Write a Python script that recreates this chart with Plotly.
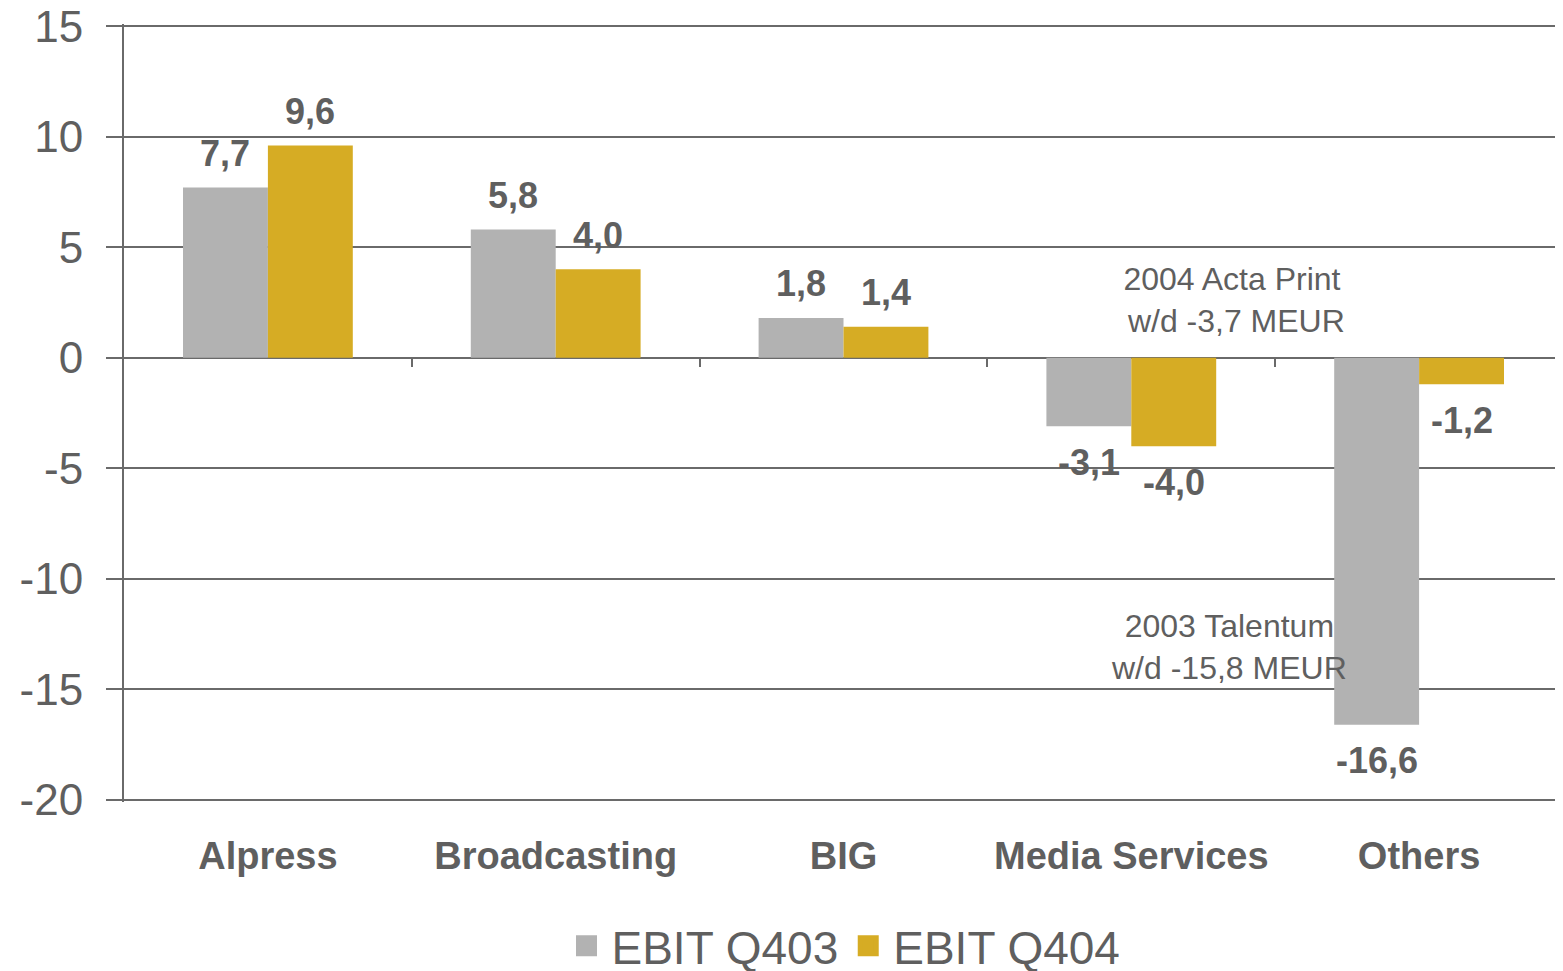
import plotly.graph_objects as go

# --- data ---
categories = ["Alpress", "Broadcasting", "BIG", "Media Services", "Others"]
ebit_q403 = [7.7, 5.8, 1.8, -3.1, -16.6]
ebit_q404 = [9.6, 4.0, 1.4, -4.0, -1.2]
series_names = ["EBIT Q403", "EBIT Q404"]
y_ticks = [15, 10, 5, 0, -5, -10, -15, -20]
y_tick_text = ["15", "10", "5", "0", "-5", "-10", "-15", "-20"]
notes = ["2004 Acta Print<br> w/d -3,7 MEUR", "2003 Talentum<br>w/d -15,8 MEUR"]

GREY = "#b2b2b2"
GOLD = "#d6ac24"
TEXT = "#5f5f5f"
LINE = "#6a6a6a"
FONT = "Liberation Sans, Arial, sans-serif"

BARGAP = 0.41
y_min, y_max = -20, 15


def fmt(v):
    # komma als decimaalteken
    return f"{v:.1f}".replace(".", ",")


fig = go.Figure()

series = [(series_names[0], ebit_q403, GREY), (series_names[1], ebit_q404, GOLD)]
for name, vals, col in series:
    fig.add_trace(go.Bar(
        x=categories,
        y=vals,
        name=name,
        marker=dict(color=col, line=dict(width=0)),
        showlegend=False,
    ))
    # legend entry with a bigger square than the default bar swatch
    fig.add_trace(go.Scatter(
        x=[None], y=[None], mode="markers", name=name,
        marker=dict(symbol="square", size=16, color=col, line=dict(color=col, width=5)),
    ))

# empty trace so the overlay axis (ticks on the zero line) gets drawn
fig.add_trace(go.Scatter(x=[], y=[], xaxis="x2", showlegend=False, hoverinfo="skip"))

# value labels, placed above/below each bar
bar_w = (1 - BARGAP) / 2
for k, (name, vals, col) in enumerate(series):
    offset = (k - 0.5) * bar_w
    for i, v in enumerate(vals):
        fig.add_annotation(
            x=i + offset, y=v, xref="x2", yref="y",
            text=fmt(v), showarrow=False,
            yshift=34 if v >= 0 else -36,
            font=dict(family=FONT, size=36, color=TEXT, weight="bold"),
        )

# annotations for write-downs
fig.add_annotation(x=3.35, y=2.6, xref="x2", yref="y", text=notes[0], showarrow=False,
                   font=dict(family=FONT, size=32, color=TEXT), align="center")
fig.add_annotation(x=3.34, y=-13.1, xref="x2", yref="y", text=notes[1], showarrow=False,
                   font=dict(family=FONT, size=32, color=TEXT), align="center")

fig.update_layout(
    width=1555,
    height=963,
    margin=dict(l=116, r=0, t=16, b=169, autoexpand=False),
    paper_bgcolor="white",
    plot_bgcolor="white",
    barmode="group",
    bargap=BARGAP,
    bargroupgap=0,
    font=dict(family=FONT, color=TEXT),
    showlegend=True,
    legend=dict(
        orientation="h",
        x=0.5, xanchor="center",
        y=-0.185, yanchor="middle",
        font=dict(family=FONT, size=46, color=TEXT),
        itemsizing="trace",
        itemwidth=40,
        tracegroupgap=0,
    ),
    xaxis=dict(
        showgrid=False,
        showline=False,
        zeroline=False,
        ticks="",
        automargin=False,
        tickfont=dict(family=FONT, size=38, color=TEXT, weight="bold"),
        ticklabelstandoff=28,
    ),
    xaxis2=dict(
        overlaying="x",
        anchor="free",
        position=(0 - y_min) / (y_max - y_min),
        range=[-0.5, len(categories) - 0.5],
        tickmode="array",
        tickvals=[i + 0.5 for i in range(len(categories) - 1)],
        ticks="outside",
        ticklen=9,
        tickwidth=2,
        tickcolor=LINE,
        showticklabels=False,
        showgrid=False,
        showline=False,
        zeroline=False,
        automargin=False,
    ),
    yaxis=dict(
        # small padding so the gridlines at 15 and -20 are still drawn
        range=[y_min - 0.1, y_max + 0.1],
        tickmode="array",
        tickvals=y_ticks,
        ticktext=y_tick_text,
        showgrid=True,
        gridcolor=LINE,
        gridwidth=2,
        zeroline=True,
        zerolinecolor=LINE,
        zerolinewidth=2,
        showline=True,
        linecolor=LINE,
        linewidth=2,
        ticks="outside",
        ticklen=16,
        tickwidth=2,
        tickcolor=LINE,
        automargin=False,
        ticklabeloverflow="allow",
        tickfont=dict(family=FONT, size=44, color=TEXT),
        ticklabelstandoff=14,
    ),
)

fig.write_html("out.html")
